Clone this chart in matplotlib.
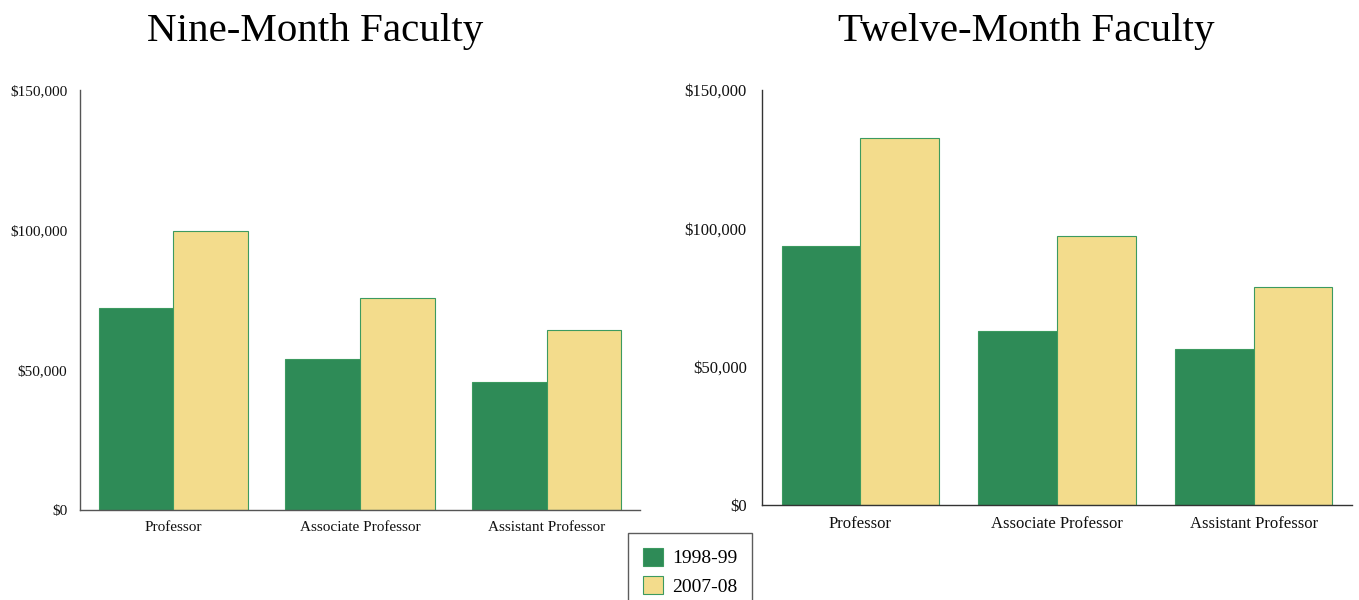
import matplotlib
matplotlib.use("Agg")
import matplotlib.pyplot as plt
import numpy as np
from matplotlib.ticker import FuncFormatter

categories = ["Professor", "Associate Professor", "Assistant Professor"]
series_names = ["1998-99", "2007-08"]
nine_1998 = [72000, 54000, 45700]
nine_2007 = [99600, 75700, 64300]
twelve_1998 = [93600, 62900, 56400]
twelve_2007 = [132600, 97200, 78800]
yticks = [0, 50000, 100000, 150000]

GREEN = "#2e8b57"
YELLOW = "#f3dc8c"
EDGE = "#3c9a60"

plt.rcParams['font.family'] = ['Liberation Serif', 'DejaVu Serif']

W, H = 1359, 600
fig = plt.figure(figsize=(W / 100, H / 100), dpi=100)

def add_axes_px(x0, y0, x1, y1):
    return fig.add_axes([x0 / W, 1 - y1 / H, (x1 - x0) / W, (y1 - y0) / H])

def money(v, _):
    return "${:,.0f}".format(v)

def draw(ax, a, b, fs, spine_color, ypad):
    x = np.arange(len(categories))
    w = 0.4
    ax.bar(x - w / 2, a, w, color=GREEN, edgecolor=EDGE, linewidth=0.8, label=series_names[0])
    ax.bar(x + w / 2, b, w, color=YELLOW, edgecolor=EDGE, linewidth=0.8, label=series_names[1])
    ax.set_xlim(-0.5, len(categories) - 0.5)
    ax.set_ylim(0, 150000)
    ax.set_yticks(yticks)
    ax.yaxis.set_major_formatter(FuncFormatter(money))
    ax.set_xticks(x)
    ax.set_xticklabels(categories)
    ax.tick_params(axis='both', length=0, labelsize=fs, colors='#111111')
    ax.tick_params(axis='y', pad=ypad)
    ax.tick_params(axis='x', pad=8)
    for s in ['top', 'right']:
        ax.spines[s].set_visible(False)
    for s in ['left', 'bottom']:
        ax.spines[s].set_color(spine_color)
        ax.spines[s].set_linewidth(1.0)

ax1 = add_axes_px(80, 90, 640, 510)
draw(ax1, nine_1998, nine_2007, 11, '#555555', 9)
ax2 = add_axes_px(762, 90, 1352, 505)
draw(ax2, twelve_1998, twelve_2007, 12, '#333333', 11)

fig.text(315 / W, 1 - 31 / H, "Nine-Month Faculty", ha='center', va='center', fontsize=29.5)
fig.text(1026 / W, 1 - 31 / H, "Twelve-Month Faculty", ha='center', va='center', fontsize=29.5)

handles, labels = ax1.get_legend_handles_labels()
leg = fig.legend(handles, labels, loc='upper left', bbox_to_anchor=(628 / W, 1 - 533 / H),
                 fontsize=14, frameon=True, fancybox=False, handlelength=1.05, handleheight=1.05,
                 borderpad=0.75, labelspacing=0.45, handletextpad=0.45, borderaxespad=0)
leg.get_frame().set_edgecolor('#333333')
leg.get_frame().set_linewidth(1.0)

fig.savefig("out.png", dpi=100)
